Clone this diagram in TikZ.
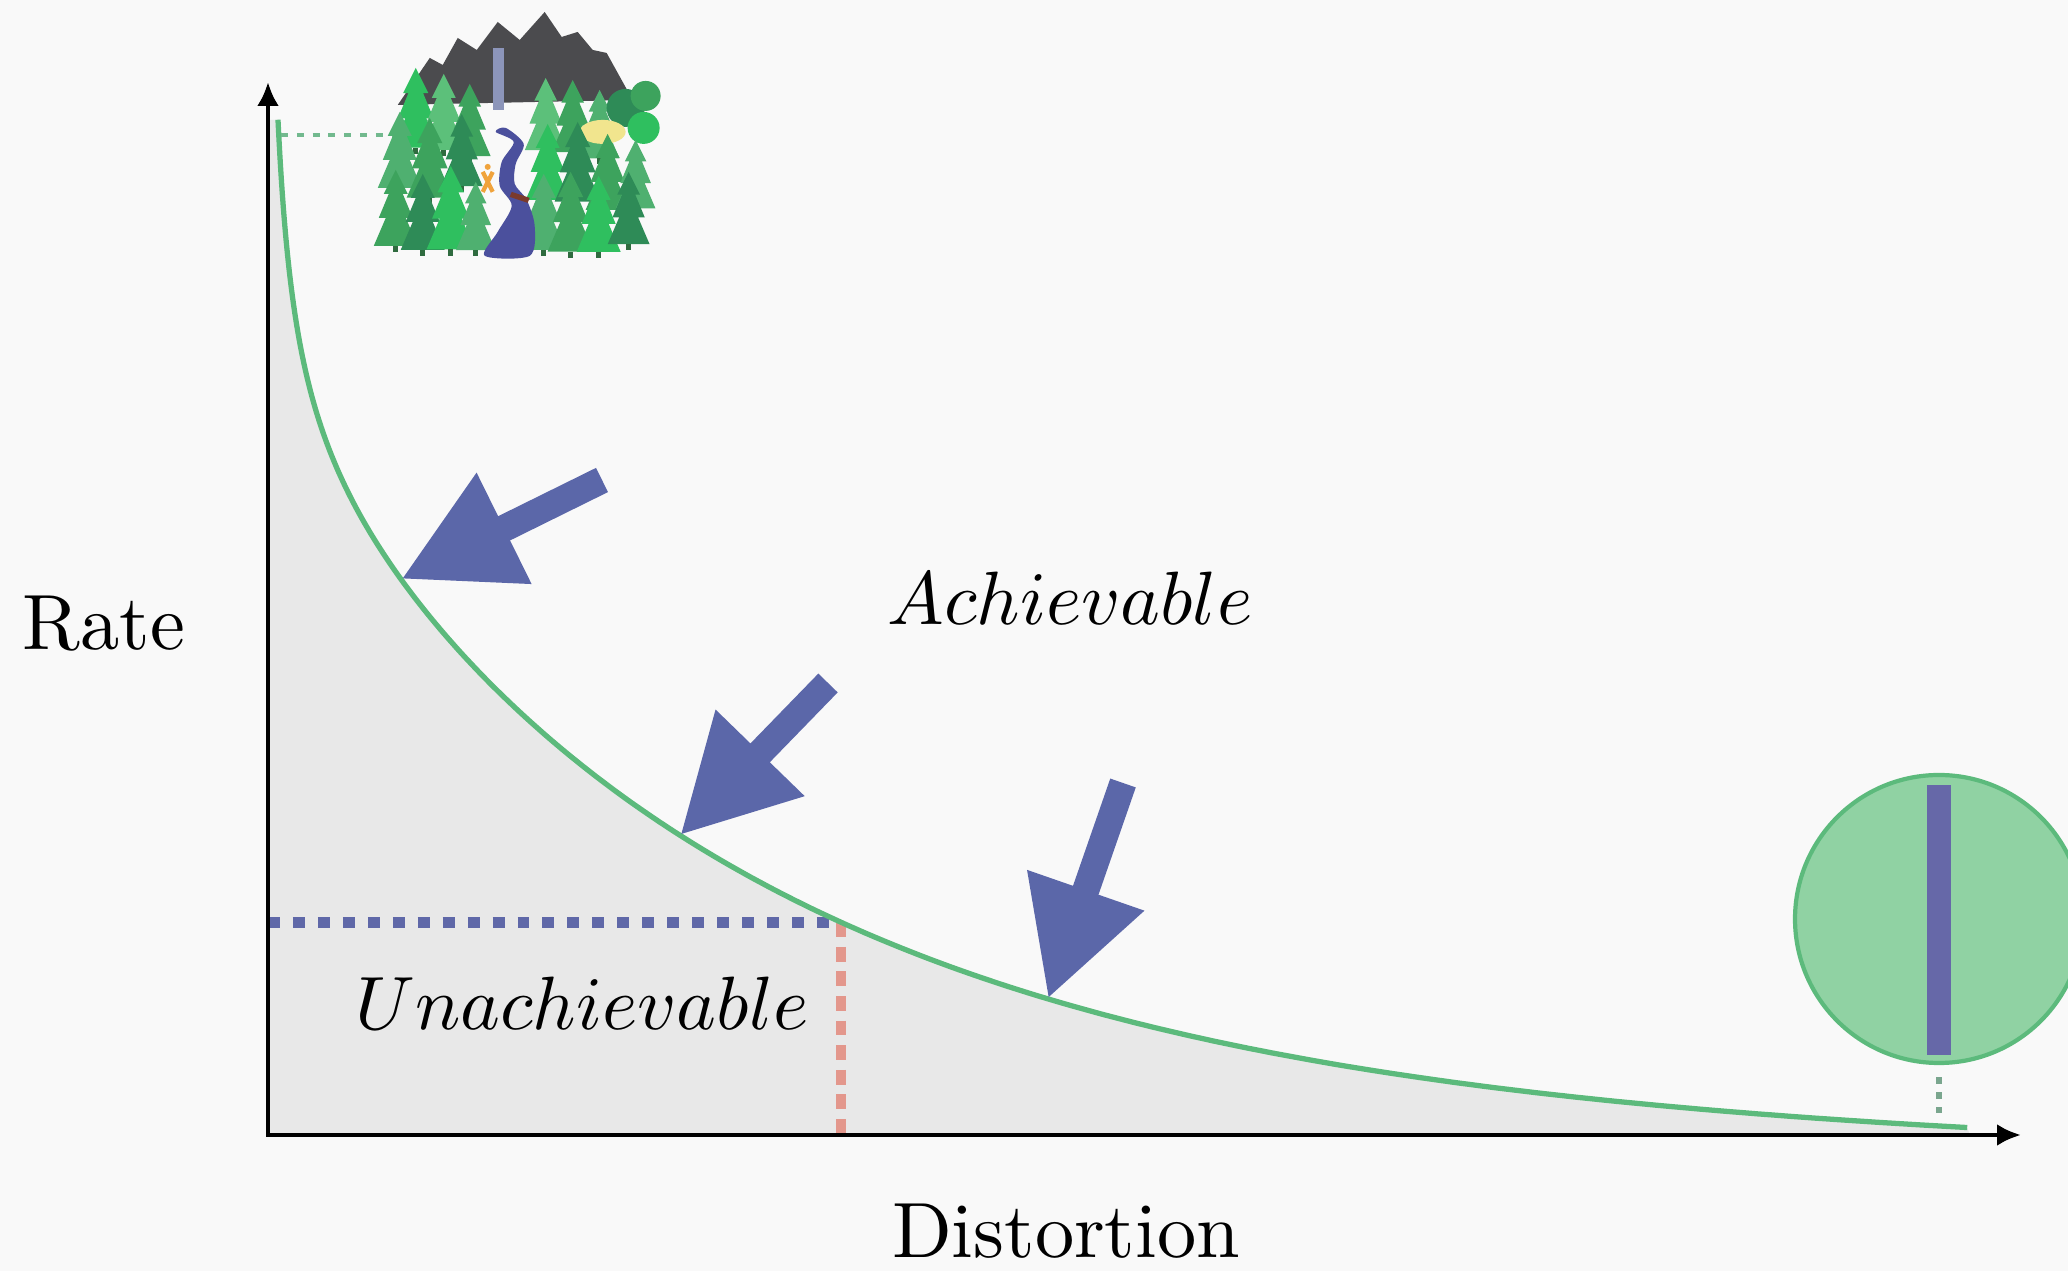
\documentclass[tikz,border=0pt]{standalone}
\usepackage{graphicx}
\usepackage{tikz}
\usetikzlibrary{arrows.meta}
\definecolor{cBg}{HTML}{F9F9F9}
\definecolor{cShade}{HTML}{E8E8E8}
\definecolor{cCurve}{HTML}{5CBA7C}
\definecolor{cArrow}{HTML}{5B67A9}
\definecolor{cDotB}{HTML}{5F68A8}
\definecolor{cDashR}{HTML}{E3978C}
\definecolor{cDotG}{HTML}{72B98E}
\definecolor{cDotV}{HTML}{7AA68E}
\definecolor{cDisc}{HTML}{90D2A3}
\definecolor{cBar}{HTML}{6668A8}
\definecolor{cRock}{HTML}{4B4B4E}
\definecolor{cFall}{HTML}{8C95BA}
\definecolor{cRiver}{HTML}{4B509D}
\definecolor{cPond}{HTML}{F1E58E}
\definecolor{cHiker}{HTML}{F0A33C}
\definecolor{cLog}{HTML}{7A3A2C}
\definecolor{cTrunk}{HTML}{2F6B3F}
\definecolor{pineA}{HTML}{3DA35D}
\definecolor{pineB}{HTML}{2FBF5F}
\definecolor{pineC}{HTML}{4FB070}
\definecolor{pineD}{HTML}{2E8B57}
\definecolor{pineE}{HTML}{5CC07A}
% labels are set at 10pt and blown up
\newcommand{\axlab}[1]{\scalebox{2.23}{#1}}
\newcommand{\reglab}[1]{\scalebox{2.15}{$#1$}}
\tikzset{
  rdaxis/.style={line width=1.3pt,{Latex[length=2.4mm,width=2.2mm]}-{Latex[length=2.4mm,width=2.2mm]}},
  rdcurve/.style={line width=1.5pt,cCurve},
  rdplot/.style={domain=0:1,samples=220},
  push/.style={line width=2.7mm,cArrow,-{Triangle[length=11.5mm,width=11.6mm]}},
  lab/.style={inner sep=0pt},
  hline/.style={cDotB,line width=3.1pt,dash pattern=on 3.4pt off 3.7pt},
  vline/.style={cDashR,line width=2.8pt,dash pattern=on 4.2pt off 2.8pt},
  gdots/.style={cDotG,line width=1.4pt,dash pattern=on 2pt off 2.5pt},
  vdots/.style={cDotV,line width=1.8pt,dash pattern=on 2pt off 2.3pt},
  pics/pine/.style={code={
    \fill[#1] (0,0) -- (12,24) -- (7,24) -- (17,48) -- (10,48) -- (22,76)
      -- (-22,76) -- (-10,48) -- (-17,48) -- (-7,24) -- (-12,24) -- cycle;
    \fill[cTrunk] (-2.5,76) rectangle (2.5,82);}},
}

\begin{document}
\begin{tikzpicture}[declare function={rd(\x)=0.662/(\x+0.0845)+6.70*exp(-\x/4.88)-0.01*\x;}]
  \useasboundingbox (-2.68,-1.36) rectangle (18.0,11.35);
  \fill[cBg] (-2.68,-1.36) rectangle (18.0,11.35);

  % region below the rate-distortion curve
  \fill[cShade] (0,0) -- (0,10.15) -- plot[rdplot]
    ({0.1+16.92*\x*\x},{rd(0.1+16.92*\x*\x)}) -- (17.02,0) -- cycle;

  \coordinate (O) at (0,0);
  \coordinate (ytip) at (0,10.53);
  \coordinate (xtip) at (17.53,0);
  \coordinate (cut) at (5.73,{rd(5.73)});
  \coordinate (cutY) at (O |- cut);
  \coordinate (cutX) at (cut |- O);

  \draw[hline] (cutY) -- (cut);
  \draw[vline] (cut) -- (cutX);
  \draw[rdcurve] plot[rdplot] ({0.1+16.92*\x*\x},{rd(0.1+16.92*\x*\x)});
  \draw[rdaxis] (ytip) -- (O) -- (xtip);

  % arrows pushing towards the curve
  \coordinate (tipA) at (1.33,{rd(1.33)});  \coordinate (tailA) at (3.34,6.55);
  \coordinate (tipB) at (4.12,{rd(4.12)});  \coordinate (tailB) at (5.60,4.52);
  \coordinate (tipC) at (7.80,{rd(7.80)});  \coordinate (tailC) at (8.55,3.52);
  \draw[push] (tailA) -- (tipA);
  \draw[push] (tailB) -- (tipB);
  \draw[push] (tailC) -- (tipC);

  \node[lab,anchor=base] (rate) at (-1.64,4.85) {\axlab{Rate}};
  \node[lab,anchor=base] (dist) at (7.98,-1.23) {\axlab{Distortion}};
  \node[lab,anchor=base] (ach) at (8.02,5.10) {\reglab{Achievable}};
  \node[lab,anchor=base] (unach) at (3.14,1.05) {\reglab{Unachievable}};

  % low-rate end: a disc with one bar
  \node[circle,draw=cCurve,line width=1.2pt,fill=cDisc,minimum size=2.88cm,
        inner sep=0pt] (disc) at (16.71,2.16) {};
  \fill[cBar] (16.59,0.80) rectangle (16.83,3.50);
  \coordinate (dend) at (16.71,0.12);
  \draw[vdots,shorten <=1.2mm,shorten >=1mm] (disc.south) -- (dend);

  % high-rate end: the full scene
  \coordinate (topR) at (0.13,10.0);
  \coordinate (forestL) at (1.42,10.0);
  \draw[gdots] (topR) -- (forestL);

  \begin{scope}[shift={(-2.68,11.35)},x=0.01cm,y=-0.01cm]
    \fill[cRock] (398,105) -- (430,58) -- (443,65) -- (458,38) -- (477,50)
      -- (498,22) -- (520,40) -- (545,12) -- (562,37) -- (578,32) -- (593,50)
      -- (607,53) -- (633,100) -- cycle;
    \fill[cFall] (493,48) rectangle (504,110);
    % back row
    \foreach \px/\py/\s/\c in {416/68/1.05/pineB, 444/74/1.0/pineE,
        470/84/0.95/pineA, 546/78/0.95/pineE, 573/80/0.95/pineA,
        600/90/0.9/pineC}
      \pic[scale=\s] at (\px,\py) {pine=\c};
    \fill[pineD] (626,108) circle (0.19cm);
    \fill[pineA] (646,96) circle (0.15cm);
    \fill[cPond] (603,132) ellipse [x radius=0.23cm,y radius=0.12cm];
    \fill[pineB] (644,128) circle (0.16cm);
    % middle row
    \foreach \px/\py/\s/\c in {400/112/1.0/pineC, 430/118/1.05/pineA,
        462/114/0.95/pineD, 548/124/1.0/pineB, 578/122/1.05/pineD,
        608/134/1.0/pineA, 636/140/0.9/pineC}
      \pic[scale=\s] at (\px,\py) {pine=\c};
    % front row
    \foreach \px/\py/\s/\c in {396/170/1.0/pineA, 423/174/1.0/pineD,
        451/166/1.1/pineB, 476/182/0.9/pineC, 544/174/1.0/pineC,
        571/172/1.05/pineA, 599/176/1.0/pineB, 629/172/0.95/pineD}
      \pic[scale=\s] at (\px,\py) {pine=\c};
    \fill[cRiver] plot[smooth cycle] coordinates {(496,132) (514,142)
      (502,162) (500,186) (512,206) (498,232) (485,256) (530,256) (535,226)
      (527,200) (515,184) (516,164) (524,144) (506,128)};
    \fill[cLog] (512,192) -- (530,198) -- (528,203) -- (510,197) -- cycle;
    \draw[cHiker,line width=1.2pt] (483,172) -- (493,192) (493,172) -- (483,192);
    \fill[cHiker] (488,167) circle (0.03cm);
  \end{scope}
\end{tikzpicture}
\end{document}
